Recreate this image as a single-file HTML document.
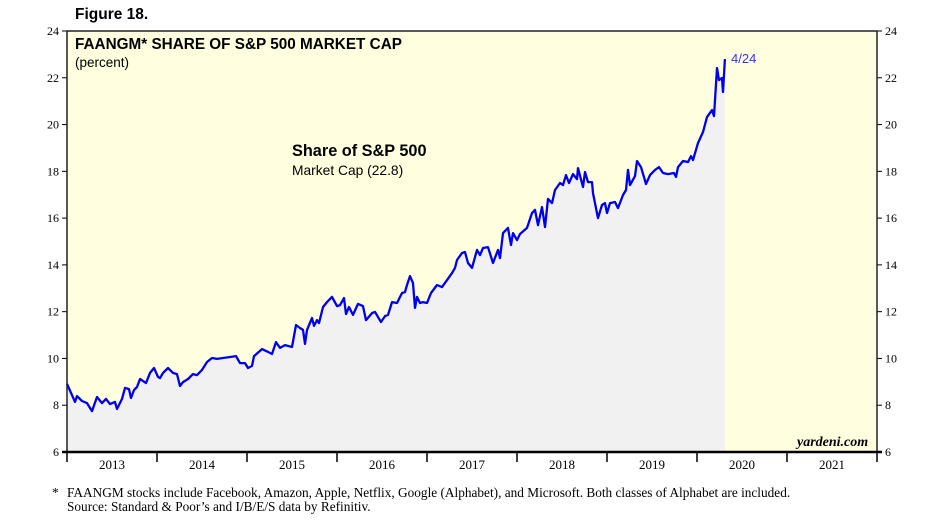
<!DOCTYPE html>
<html><head><meta charset="utf-8">
<style>
body{margin:0;background:#fff;width:947px;height:532px;overflow:hidden}
svg{display:block}
.s{font-family:"Liberation Sans",sans-serif}
.r{font-family:"Liberation Serif",serif}
</style></head>
<body>
<svg id="chart" width="947" height="532">
<text x="75" y="19" class="s" font-size="15.5" font-weight="bold">Figure 18.</text>
<rect x="67" y="31" width="810" height="421" fill="#ffffe0"/>
<g id="series"></g>
<g id="axes"></g>
<rect x="67" y="31" width="810" height="421" fill="none" stroke="#222" stroke-width="1.5"/>
<line x1="62" y1="452" x2="882" y2="452" stroke="#000" stroke-width="2.5"/>
<text x="75" y="49" class="s" font-size="15.3" font-weight="bold">FAANGM* SHARE OF S&amp;P 500 MARKET CAP</text>
<text x="75" y="67" class="s" font-size="13.5">(percent)</text>
<text x="292" y="156" class="s" font-size="16.3" font-weight="bold">Share of S&amp;P 500</text>
<text x="292" y="175" class="s" font-size="13.8">Market Cap (22.8)</text>
<text x="731" y="63" class="s" font-size="13" fill="#3333ff">4/24</text>
<text x="797" y="446" class="r" font-size="14" font-weight="bold" font-style="italic">yardeni.com</text>
<text x="52" y="497" class="r" font-size="13.3">*</text>
<text x="67" y="497" class="r" font-size="13.3">FAANGM stocks include Facebook, Amazon, Apple, Netflix, Google (Alphabet), and Microsoft. Both classes of Alphabet are included.</text>
<text x="67" y="511" class="r" font-size="13.3">Source: Standard &amp; Poor’s and I/B/E/S data by Refinitiv.</text>
</svg>
<script>
const dates=[0,.089,.111,.167,.222,.278,.333,.389,.433,.478,.533,.556,.611,.644,.689,.711,.744,.778,.811,.878,.922,.967,1.011,1.033,1.067,1.122,1.178,1.222,1.256,1.289,1.344,1.4,1.444,1.5,1.556,1.611,1.667,1.733,1.811,1.878,1.922,1.978,2.011,2.056,2.078,2.167,2.233,2.278,2.322,2.367,2.422,2.5,2.544,2.589,2.622,2.644,2.667,2.722,2.744,2.778,2.8,2.844,2.889,2.944,3.0,3.033,3.078,3.1,3.133,3.178,3.233,3.289,3.322,3.389,3.422,3.489,3.533,3.567,3.611,3.667,3.722,3.756,3.778,3.811,3.844,3.867,3.889,3.922,3.956,4.0,4.044,4.111,4.167,4.222,4.278,4.311,4.333,4.389,4.422,4.456,4.5,4.556,4.589,4.622,4.678,4.733,4.789,4.811,4.844,4.9,4.933,4.956,5.0,5.033,5.111,5.167,5.2,5.233,5.278,5.311,5.344,5.389,5.422,5.478,5.511,5.544,5.578,5.622,5.667,5.678,5.733,5.756,5.789,5.833,5.844,5.9,5.944,5.978,6.0,6.033,6.089,6.122,6.178,6.211,6.233,6.256,6.311,6.333,6.378,6.433,6.478,6.533,6.578,6.622,6.678,6.744,6.767,6.789,6.844,6.9,6.933,6.956,7.011,7.067,7.111,7.167,7.189,7.222,7.244,7.278,7.289,7.31];
const values=[8.91,8.14,8.39,8.18,8.09,7.75,8.35,8.09,8.27,8.05,8.14,7.84,8.27,8.74,8.69,8.31,8.65,8.78,9.12,8.95,9.38,9.59,9.21,9.16,9.38,9.59,9.38,9.33,8.82,8.99,9.12,9.33,9.29,9.51,9.85,10.02,9.98,10.02,10.06,10.10,9.80,9.80,9.59,9.68,10.10,10.40,10.28,10.19,10.70,10.45,10.57,10.49,11.43,11.30,11.22,10.62,11.22,11.73,11.39,11.64,11.51,12.20,12.41,12.63,12.24,12.28,12.58,11.90,12.20,11.86,12.33,12.24,11.64,11.94,11.99,11.56,11.81,11.86,12.41,12.37,12.80,12.84,13.14,13.52,13.22,12.16,12.63,12.37,12.41,12.37,12.80,13.14,13.05,13.35,13.65,13.87,14.21,14.51,14.55,14.08,13.87,14.64,14.42,14.72,14.76,14.08,14.64,14.29,15.36,15.58,14.85,15.36,15.06,15.32,15.58,16.22,16.35,15.70,16.47,15.62,16.82,16.64,17.20,17.50,17.41,17.84,17.50,17.88,17.67,18.14,17.33,17.97,17.54,17.54,17.07,16.00,16.56,16.64,16.22,16.64,16.69,16.43,16.99,17.20,18.06,17.41,17.80,18.44,18.18,17.46,17.84,18.06,18.18,17.93,17.88,17.93,17.76,18.18,18.44,18.40,18.65,18.48,19.21,19.68,20.32,20.62,20.36,22.42,21.90,21.99,21.39,22.80];
const yTicks=[6,8,10,12,14,16,18,20,22,24];
const yearLabels=["2013","2014","2015","2016","2017","2018","2019","2020","2021"];
const startYear=2013;

const NS="http://www.w3.org/2000/svg";
const L=67,R=877,T=31,B=452,YMIN=6,YMAX=24;
const xs=d=>L+(d)*(R-L)/yearLabels.length;
const ys=v=>B-(v-YMIN)*(B-T)/(YMAX-YMIN);
function mk(tag,attrs,parent){const e=document.createElementNS(NS,tag);for(const k in attrs)e.setAttribute(k,attrs[k]);parent.appendChild(e);return e;}
const gs=document.getElementById('series'),ga=document.getElementById('axes');
let pts=dates.map((d,i)=>xs(d).toFixed(1)+","+ys(values[i]).toFixed(1));
const area=mk('polygon',{points:xs(dates[0])+","+B+" "+pts.join(" ")+" "+xs(dates[dates.length-1]).toFixed(1)+","+B,fill:"#f1f1f1"},gs);


const line=mk('polyline',{points:pts.join(" "),fill:"none",stroke:"#0000ee","stroke-width":2.3,"stroke-linejoin":"round"},gs);


yTicks.forEach(v=>{
  const y=ys(v);
  const t1=mk('line',{x1:L-5,x2:L,y1:y,y2:y,stroke:"#000"},ga);
  
  
  const t2=mk('line',{x1:R,x2:R+5,y1:y,y2:y,stroke:"#000"},ga);
  
  
  const a=mk('text',{x:L-8,y:y+4,"text-anchor":"end","font-size":12,"class":"r"},ga);a.textContent=v;
  
  
  const b=mk('text',{x:R+8,y:y+4,"font-size":12,"class":"r"},ga);b.textContent=v;
  
  
});
for(let i=0;i<=yearLabels.length;i++){
  const x=xs(i);
  const t=mk('line',{x1:x,x2:x,y1:B,y2:B+10,stroke:"#000","stroke-width":1.5},ga);
  
  
  if(i<yearLabels.length){
    const lb=mk('text',{x:xs(i+0.5),y:B+17,"text-anchor":"middle","font-size":13,"class":"r"},ga);lb.textContent=yearLabels[i];
    
    
  }
}
</script>
</body></html>
